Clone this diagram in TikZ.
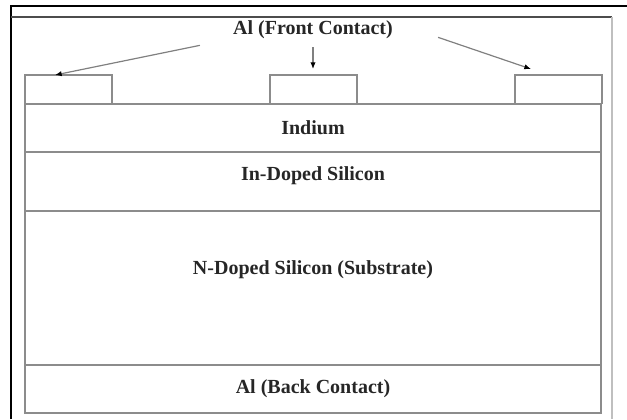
\documentclass[tikz,border=0pt]{standalone}
\usepackage{fontspec}
\setmainfont{Liberation Serif}
\usetikzlibrary{arrows.meta,positioning}
\tikzset{every picture/.style={/utils/exec={\bfseries\fontsize{15}{17}\selectfont}}}

\begin{document}
\begin{tikzpicture}[x=0.75pt,y=-0.75pt,
  layer/.style={draw=black!45,line width=1.3pt},
  lbl/.style={inner sep=0pt,text=black!85},
  pointer/.style={draw=black!50,line width=0.9pt,-{Latex[black,length=5pt,width=4pt]}}]
  \useasboundingbox (0,0) rectangle (627,419);

  % frame
  \draw[line width=1.6pt] (11,419) -- (11,6) -- (627,6);
  \draw[line width=1.4pt,black!70] (11,17) -- (612,17);
  \draw[black!25,line width=0.8pt] (612,17) -- (612,419);

  % layers
  \draw[layer] (25,104) rectangle (601,413);
  \draw[layer] (25,152) -- (601,152);
  \draw[layer] (25,211) -- (601,211);
  \draw[layer] (25,365) -- (601,365);

  % front contacts
  \foreach \x in {25,270,515}
    \draw[layer] (\x,104) -- ++(0,-29) -- ++(87,0) -- ++(0,29);

  \node[lbl] (front) at (313,30) {Al (Front Contact)};
  \node[lbl] (indium) at (313,128) {Indium};
  \node[lbl] (indoped) at (313,176) {In-Doped Silicon};
  \node[lbl] (ndoped) at (313,270) {N-Doped Silicon (Substrate)};
  \node[lbl] (back) at (313,389) {Al (Back Contact)};

  \coordinate (lefttip) at (55,75);
  \coordinate (midtip) at (313,69);
  \coordinate (righttip) at (531,69);

  \draw[pointer] ([shift={(-33,6)}]front.south west) -- (lefttip);
  \draw[pointer] ([yshift=-6pt]front.south) -- (midtip);
  \draw[pointer] ([shift={(45,-2)}]front.south east) -- (righttip);
\end{tikzpicture}
\end{document}
